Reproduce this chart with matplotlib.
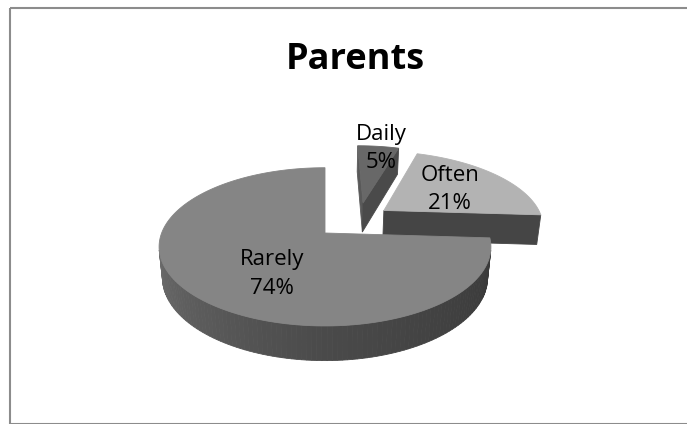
import numpy as np
import matplotlib
matplotlib.use("Agg")
import matplotlib.pyplot as plt
from matplotlib.patches import Polygon, Rectangle

# ---- data ----
title = "Parents"
categories = ["Daily", "Often", "Rarely"]
percents = [5, 21, 74]

# ---- style ----
top_colors = ["#686868", "#b3b3b3", "#858585"]
side_colors = ["#4a4a4a", "#454545", "#4a4a4a"]
explode_vec = [(0.25, 0.42), (0.38, 0.31), (0.0, 0.0)]   # explosion offsets (radius units)
label_r = [0.95, 0.60, 0.50]
label_nudge = [(4, 0), (-4, 1), (10, 13)]

W, H = 687, 424
fig = plt.figure(figsize=(W / 100, H / 100), dpi=100)
ax = fig.add_axes([0, 0, 1, 1])
ax.set_xlim(0, W)
ax.set_ylim(H, 0)
ax.axis("off")

# perspective camera
cx, cy = 325.0, 233.0
f = 825.0
D = 5.05
phi = np.radians(28)
thick = 0.216
cphi, sphi = np.cos(phi), np.sin(phi)
cam = np.array([0.0, -D * cphi, D * sphi])


def proj(x, y, z):
    x = np.asarray(x, float); y = np.asarray(y, float); z = np.asarray(z, float)
    up = y * sphi + z * cphi
    depth = D + y * cphi - z * sphi
    return cx + f * x / depth, cy - f * up / depth


def visible(p, n):
    return np.dot(cam - p, n) > 0


def draw_poly(xs, ys, zs, color, zorder):
    X, Y = proj(xs, ys, zs)
    ax.add_patch(Polygon(np.column_stack([X, Y]), closed=True, facecolor=color,
                         edgecolor=color, linewidth=0.6, zorder=zorder))


def shade(hexcol, k):
    c = np.array(matplotlib.colors.to_rgb(hexcol)) * k
    return tuple(np.clip(c, 0, 1))


total = sum(percents)
bounds = np.concatenate([[0], np.cumsum(percents)]) / total * 360.0

# draw order: far slices first
order = sorted(range(len(percents)),
               key=lambda i: -(explode_vec[i][1] + np.cos(np.radians((bounds[i] + bounds[i + 1]) / 2))))

z = 1
for i in order:
    t0, t1 = bounds[i], bounds[i + 1]
    ex, ey = explode_vec[i]
    th = np.radians(np.linspace(t0, t1, max(int((t1 - t0) / 1.5), 4) + 1))
    ox, oy = ex + np.sin(th), ey + np.cos(th)
    # radial faces
    for ang, sign in ((t0, -1), (t1, 1)):
        a = np.radians(ang)
        n = sign * np.array([np.cos(a), -np.sin(a), 0.0])
        p = np.array([ex + 0.5 * np.sin(a), ey + 0.5 * np.cos(a), -thick / 2])
        if visible(p, n):
            xs = [ex, ex + np.sin(a), ex + np.sin(a), ex]
            ys = [ey, ey + np.cos(a), ey + np.cos(a), ey]
            zs = [0, 0, -thick, -thick]
            k = 1.0 if sign > 0 else 1.2
            draw_poly(xs, ys, zs, shade(side_colors[i], k), z)
    # outer side
    for j in range(len(th) - 1):
        tm = (th[j] + th[j + 1]) / 2
        n = np.array([np.sin(tm), np.cos(tm), 0.0])
        p = np.array([ex + np.sin(tm), ey + np.cos(tm), -thick / 2])
        if visible(p, n):
            k = np.interp(np.degrees(tm) % 360, [90, 180, 270], [0.73, 1.0, 1.5])
            xs = [ox[j], ox[j + 1], ox[j + 1], ox[j]]
            ys = [oy[j], oy[j + 1], oy[j + 1], oy[j]]
            zs = [0, 0, -thick, -thick]
            draw_poly(xs, ys, zs, shade(side_colors[i], k), z)
    z += 1
    # top face
    draw_poly(np.concatenate([[ex], ox]), np.concatenate([[ey], oy]),
              np.zeros(len(ox) + 1), top_colors[i], z)
    z += 1

# labels
for i, (cat, pct) in enumerate(zip(categories, percents)):
    tm = np.radians((bounds[i] + bounds[i + 1]) / 2)
    ex, ey = explode_vec[i]
    X, Y = proj(ex + label_r[i] * np.sin(tm), ey + label_r[i] * np.cos(tm), 0.0)
    X += label_nudge[i][0]; Y += label_nudge[i][1]
    ax.text(X, Y, f"{cat}\n{pct}%", ha="center", va="center", fontsize=16,
            family="Open Sans", color="#000000", linespacing=1.45, zorder=20)

ax.text(355, 60, title, ha="center", va="center", fontsize=26, fontweight="bold",
        family="Open Sans", color="#000000", zorder=20)

ax.add_patch(Rectangle((9.5, 7.5), 690, 416, fill=False, edgecolor="#8c8c8c",
                       linewidth=1.5, zorder=30, clip_on=False))

fig.savefig("out.png", dpi=100)
